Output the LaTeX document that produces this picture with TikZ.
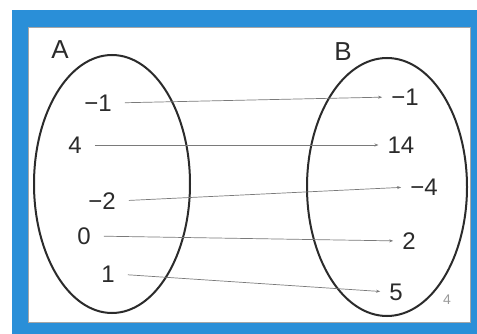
\documentclass[tikz,border=0pt]{standalone}
\usepackage{fontspec}
\setmainfont{Liberation Sans}
\usepackage{xcolor}
\usepackage{tikz}
\usetikzlibrary{
    arrows.meta,
    positioning,
    shapes.geometric
}
\definecolor{framecolor}{HTML}{2A8FD8}
\definecolor{inkcolor}{HTML}{2B2B2B}
\definecolor{mapcolor}{HTML}{7A7A7A}
\tikzset{
    set oval/.style={
        ellipse, draw=inkcolor, line width=2pt,
        inner sep=0pt
    },
    set label/.style={
        font=\fontsize{26}{28}\selectfont, text=inkcolor
    },
    elem/.style={
        font=\fontsize{24}{26}\selectfont, text=inkcolor,
        inner sep=1pt
    },
    maps to/.style={
        -{Stealth[length=4pt, width=3pt]}, line width=0.7pt,
        color=mapcolor, shorten <=12pt, shorten >=8pt
    },
}

\begin{document}
\begin{tikzpicture}[x=1pt, y=-1pt]
    \useasboundingbox (0,0) rectangle (477,334);

    % ── Frame ──
    \fill[framecolor] (12,10) rectangle (477,334);
    \filldraw[fill=white, draw=black!35, thin] (28,27) rectangle (470,322);

    % ── Sets ──
    \node[set oval, minimum width=156pt, minimum height=258pt] (setA) at (112,184) {};
    \node[set oval, minimum width=160pt, minimum height=258pt] (setB) at (387,187) {};
    \node[set label] (labA) at (60,50) {A};
    \node[set label] (labB) at (343,52) {B};

    % ── Elements of A ──
    \node[elem] (a1) at (98,103) {−1};
    \node[elem] (a2) at (75,145) {4};
    \node[elem] (a3) at (102,201) {−2};
    \node[elem] (a4) at (84,236) {0};
    \node[elem] (a5) at (108,274) {1};

    % ── Elements of B ──
    \node[elem] (b1) at (405,97) {−1};
    \node[elem] (b2) at (401,145) {14};
    \node[elem] (b3) at (424,187) {−4};
    \node[elem] (b4) at (409,241) {2};
    \node[elem] (b5) at (396,292) {5};

    \node[font=\fontsize{14}{16}\selectfont, text=black!40] (page) at (447,300) {4};

    % ── Mapping ──
    \draw[maps to] (a1.east) -- (b1.west);
    \draw[maps to] (a2.east) -- (b2.west);
    \draw[maps to] (a3.east) -- (b3.west);
    \draw[maps to] (a4.east) -- (b4.west);
    \draw[maps to] (a5.east) -- (b5.west);

\end{tikzpicture}
\end{document}
